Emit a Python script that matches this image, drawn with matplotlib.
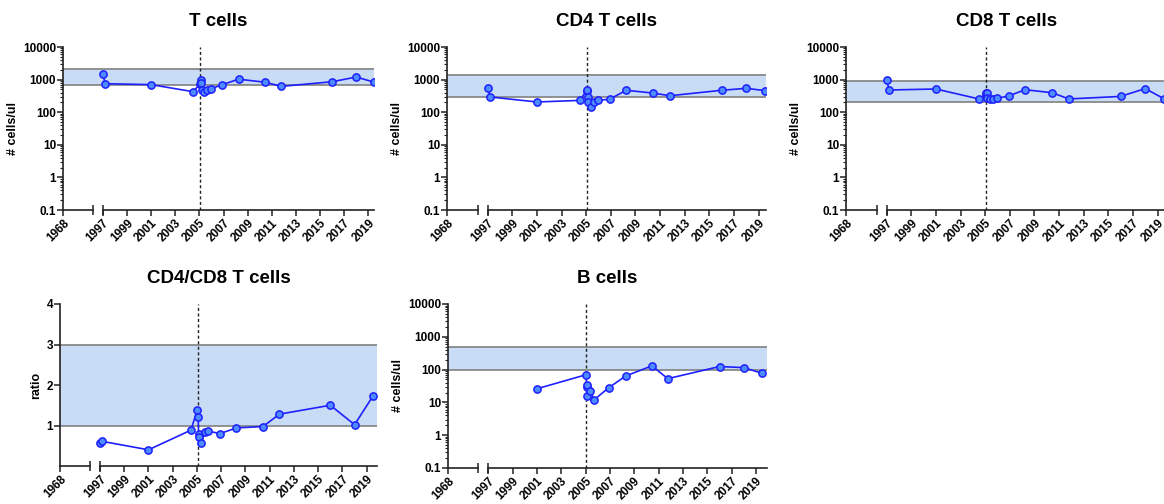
import numpy as np
import matplotlib
matplotlib.use("Agg")
import matplotlib.pyplot as plt
from matplotlib.ticker import LogLocator, NullFormatter

plt.rcParams['font.family'] = ['Liberation Sans', 'DejaVu Sans']
plt.rcParams['font.weight'] = 'bold'

# sampling dates (decimal years)
dates = [1997.0, 1997.2, 2001.0, 2004.5, 2005.03, 2005.1, 2005.13, 2005.18, 2005.37,
         2005.65, 2005.95, 2006.9, 2008.25, 2010.45, 2011.8, 2016.0, 2018.0, 2019.5]
t_cells = [1500, 750, 700, 425, 730, 950, 790, 470, 425, 490, 520, 700, 1030, 830, 620, 860, 1200, 830]
cd4 = [570, 293, 206, 230, 460, 490, 300, 200, 145, 205, 230, 250, 470, 385, 320, 470, 540, 460]
cd8 = [980, 480, 515, 255, 330, 400, 380, 270, 250, 250, 265, 315, 490, 395, 255, 305, 530, 262]
ratio = [0.575, 0.607, 0.40, 0.885, 1.39, 1.21, 0.80, 0.71, 0.58, 0.83, 0.86, 0.80, 0.94, 0.975,
         1.28, 1.5, 1.02, 1.72]

b_dates = [2001.0, 2005.05, 2005.08, 2005.1, 2005.15, 2005.4, 2005.7, 2006.9, 2008.3, 2010.45,
           2011.75, 2016.0, 2018.0, 2019.5]
b_cells = [26, 70, 29, 16, 35, 22, 12, 28, 64, 130, 53, 124, 115, 77]

# normal ranges
t_range = [700, 2100]
cd4_range = [300, 1400]
cd8_range = [200, 900]
ratio_range = [1, 3]
b_range = [100, 500]

event_year = 2005.05
year_ticks = [1968] + list(range(1997, 2020, 2))

# broken x axis: 1968 squeezed in just left of 1997
GAP_START = 1993.7
K = 0.1
BREAK = 1992.8


def fwd(x):
    x = np.asarray(x, dtype=float)
    return np.where(x >= 1997, x, GAP_START + (x - 1968) * K)


def inv(t):
    t = np.asarray(t, dtype=float)
    return np.where(t >= 1997, t, 1968 + (t - GAP_START) / K)


W, H = 1164, 504
fig = plt.figure(figsize=(W / 100, H / 100), dpi=100)

line_c = '#1f1fff'
face_c = '#4d8cff'
band_c = '#c8dcf5'
edge_c = '#808080'
axis_c = '#222222'


def make_panel(px_l, px_r, px_t, px_b, xmax, title, x, y, rng, log=True, ylabel='# cells/ul'):
    ax = fig.add_axes([px_l / W, 1 - px_b / H, (px_r - px_l) / W, (px_b - px_t) / H])
    ax.set_xscale('function', functions=(fwd, inv))
    ax.set_xlim(1968, xmax)
    if log:
        ax.set_yscale('log')
        ax.set_ylim(0.1, 10000)
        ax.set_yticks([0.1, 1, 10, 100, 1000, 10000], ['0.1', '1', '10', '100', '1000', '10000'])
        ax.yaxis.set_minor_locator(LogLocator(base=10, subs=np.arange(2, 10), numticks=20))
        ax.yaxis.set_minor_formatter(NullFormatter())
    else:
        ax.set_ylim(0, 4)
        ax.set_yticks([1, 2, 3, 4], ['1', '2', '3', '4'])

    ax.axhspan(rng[0], rng[1], color=band_c, lw=0, zorder=0)
    ax.axhline(rng[0], color=edge_c, lw=1.2, zorder=1)
    ax.axhline(rng[1], color=edge_c, lw=1.2, zorder=1)
    ax.axvline(event_year, color='#222222', lw=1.0, ls=(0, (2.2, 1.8)), zorder=2)

    ax.plot(x, y, color=line_c, lw=1.2, marker='o', ms=5.2, mfc=face_c, mec=line_c, mew=1.1,
            zorder=3)

    ax.set_xticks(year_ticks, [str(v) for v in year_ticks])
    ax.tick_params(axis='x', rotation=45, labelsize=8.5, length=4, width=1.1, color=axis_c, pad=1)
    for lab in ax.get_xticklabels():
        lab.set_ha('right')
        lab.set_rotation_mode('anchor')
    ax.tick_params(axis='y', labelsize=8.5, length=4, width=1.1, color=axis_c, pad=1)
    ax.tick_params(axis='y', which='minor', length=2, width=0.8, color=axis_c)

    for s in ['top', 'right', 'bottom']:
        ax.spines[s].set_visible(False)
    ax.spines['left'].set_color(axis_c)
    ax.spines['left'].set_linewidth(1.2)

    tr = ax.get_xaxis_transform()
    ax.plot([1968, BREAK], [0, 0], color=axis_c, lw=1.2, transform=tr, clip_on=False)
    ax.plot([1997, xmax], [0, 0], color=axis_c, lw=1.2, transform=tr, clip_on=False)
    ax.plot([BREAK, 1997], [0, 0], ls='none', marker='|', ms=7, mew=1.1, color=axis_c,
            transform=tr, clip_on=False)

    ax.set_title(title, fontsize=13.5, fontweight='bold', pad=15)
    ax.set_ylabel(ylabel, fontsize=9, fontweight='bold', labelpad=3)
    return ax


make_panel(63, 374, 47, 210, 2019.47, 'T cells', dates, t_cells, t_range)
make_panel(447, 766, 47, 210, 2019.6, 'CD4 T cells', dates, cd4, cd4_range)
make_panel(846, 1168, 47, 210, 2019.85, 'CD8 T cells', dates, cd8, cd8_range)
make_panel(60, 377, 304, 466, 2019.85, 'CD4/CD8 T cells', dates, ratio, ratio_range,
           log=False, ylabel='ratio')
make_panel(448, 767, 304, 468, 2019.9, 'B cells', b_dates, b_cells, b_range)

fig.savefig('out.png', dpi=100)
